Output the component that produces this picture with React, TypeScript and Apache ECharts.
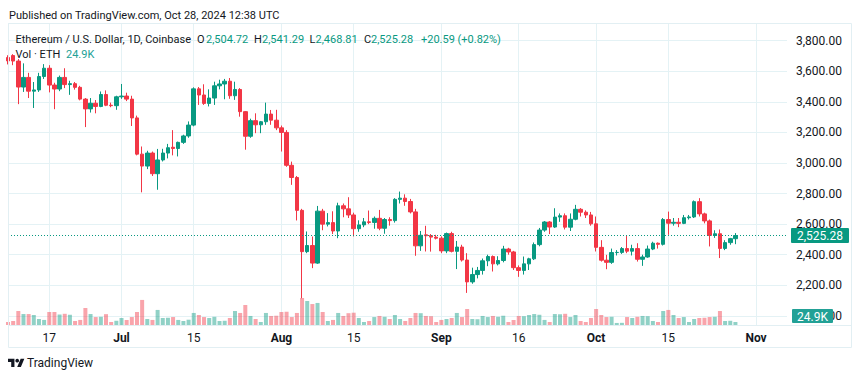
import React, { useEffect, useRef } from 'react';
import * as echarts from 'echarts';

// ---- data ----
const START_DATE = '2024-06-09';
const AXIS_DAYS = 152; // Jun 9 .. Nov 7 (axis extends past the last candle)

// [open, close, low, high], one per day from Jun 9, 2024
const OHLC: number[][] = [
  [3690, 3668, 3645, 3705], // Jun 9
  [3703, 3667, 3640, 3712],
  [3667, 3497, 3385, 3680],
  [3497, 3560, 3465, 3652],
  [3560, 3470, 3425, 3590],
  [3470, 3478, 3360, 3530],
  [3478, 3566, 3465, 3590],
  [3566, 3620, 3550, 3647],
  [3620, 3510, 3462, 3640], // Jun 17
  [3510, 3484, 3352, 3525],
  [3484, 3560, 3470, 3572],
  [3560, 3513, 3490, 3620],
  [3513, 3519, 3446, 3538],
  [3519, 3495, 3480, 3530],
  [3495, 3418, 3410, 3505],
  [3418, 3354, 3235, 3425],
  [3354, 3391, 3330, 3425],
  [3391, 3370, 3325, 3412],
  [3370, 3448, 3365, 3468],
  [3448, 3378, 3372, 3475],
  [3378, 3375, 3365, 3395],
  [3375, 3433, 3348, 3440],
  [3433, 3438, 3420, 3517], // Jul 1
  [3438, 3418, 3405, 3460],
  [3418, 3295, 3242, 3440],
  [3295, 3058, 3050, 3310],
  [3058, 2980, 2808, 3108],
  [2980, 3065, 2960, 3080],
  [3065, 2930, 2915, 3075],
  [2930, 3020, 2825, 3092],
  [3020, 3065, 3010, 3093],
  [3065, 3100, 3030, 3125],
  [3103, 3095, 3050, 3215],
  [3095, 3135, 3043, 3140],
  [3135, 3177, 3125, 3185],
  [3177, 3248, 3165, 3272],
  [3248, 3485, 3240, 3495], // Jul 15
  [3485, 3445, 3380, 3497],
  [3445, 3390, 3380, 3515],
  [3390, 3425, 3370, 3482],
  [3425, 3505, 3380, 3532],
  [3505, 3517, 3482, 3545],
  [3517, 3535, 3417, 3550],
  [3535, 3440, 3420, 3556],
  [3440, 3481, 3413, 3532],
  [3481, 3336, 3303, 3490],
  [3336, 3175, 3087, 3340],
  [3175, 3277, 3165, 3290],
  [3277, 3250, 3195, 3325],
  [3250, 3270, 3195, 3275],
  [3270, 3320, 3250, 3395],
  [3320, 3280, 3250, 3347],
  [3280, 3230, 3215, 3348],
  [3230, 3200, 3075, 3245], // Aug 1
  [3200, 2985, 2975, 3215],
  [2985, 2905, 2857, 3009],
  [2905, 2690, 2624, 2915],
  [2690, 2420, 2115, 2700],
  [2420, 2460, 2410, 2552],
  [2460, 2345, 2312, 2519],
  [2345, 2685, 2340, 2719],
  [2685, 2600, 2560, 2700],
  [2600, 2610, 2585, 2672],
  [2610, 2555, 2535, 2684],
  [2555, 2720, 2508, 2740],
  [2720, 2700, 2645, 2735],
  [2700, 2660, 2640, 2776],
  [2660, 2570, 2519, 2675], // Aug 15
  [2570, 2595, 2550, 2625],
  [2595, 2615, 2580, 2640],
  [2615, 2611, 2600, 2689],
  [2611, 2638, 2570, 2650],
  [2638, 2573, 2560, 2693],
  [2573, 2630, 2537, 2640],
  [2630, 2623, 2590, 2645],
  [2623, 2762, 2610, 2770],
  [2762, 2770, 2735, 2813],
  [2770, 2748, 2720, 2795],
  [2748, 2680, 2670, 2765],
  [2680, 2458, 2393, 2700],
  [2458, 2527, 2425, 2555],
  [2530, 2524, 2421, 2589],
  [2525, 2515, 2420, 2535],
  [2515, 2508, 2500, 2530],
  [2508, 2425, 2410, 2520], // Sep 1
  [2425, 2538, 2410, 2545],
  [2538, 2422, 2415, 2550],
  [2422, 2450, 2306, 2490],
  [2450, 2365, 2355, 2465],
  [2365, 2222, 2150, 2410],
  [2222, 2270, 2210, 2315],
  [2270, 2297, 2245, 2320],
  [2297, 2360, 2270, 2375],
  [2360, 2388, 2325, 2400],
  [2388, 2340, 2290, 2395],
  [2340, 2362, 2330, 2390],
  [2362, 2437, 2350, 2458],
  [2437, 2418, 2400, 2445],
  [2418, 2315, 2300, 2425],
  [2315, 2297, 2255, 2330], // Sep 16
  [2297, 2340, 2270, 2388],
  [2340, 2373, 2300, 2380],
  [2373, 2466, 2365, 2480],
  [2466, 2561, 2455, 2575],
  [2561, 2614, 2550, 2620],
  [2614, 2581, 2535, 2620],
  [2581, 2646, 2575, 2704],
  [2646, 2655, 2615, 2670],
  [2655, 2580, 2565, 2670],
  [2580, 2632, 2555, 2670],
  [2632, 2697, 2625, 2726],
  [2697, 2678, 2650, 2705],
  [2678, 2660, 2640, 2690],
  [2660, 2602, 2590, 2680],
  [2602, 2448, 2421, 2650], // Oct 1
  [2448, 2364, 2355, 2495],
  [2364, 2350, 2305, 2399],
  [2350, 2414, 2340, 2440],
  [2414, 2415, 2395, 2430],
  [2415, 2440, 2405, 2450],
  [2440, 2423, 2410, 2522],
  [2423, 2440, 2395, 2465],
  [2440, 2370, 2355, 2475],
  [2370, 2385, 2327, 2400],
  [2385, 2437, 2380, 2460],
  [2437, 2475, 2430, 2485],
  [2475, 2468, 2440, 2480],
  [2468, 2630, 2460, 2640],
  [2630, 2606, 2530, 2682], // Oct 15
  [2606, 2612, 2590, 2640],
  [2612, 2605, 2580, 2640],
  [2605, 2642, 2600, 2660],
  [2642, 2647, 2630, 2660],
  [2647, 2747, 2640, 2755],
  [2747, 2667, 2650, 2770],
  [2667, 2621, 2605, 2675],
  [2621, 2526, 2454, 2630],
  [2526, 2537, 2510, 2560],
  [2537, 2441, 2378, 2565],
  [2441, 2479, 2430, 2495],
  [2479, 2505, 2465, 2510],
  [2504.72, 2525.28, 2468.81, 2541.29], // Oct 28
];

// daily volume, thousands of ETH
const VOLUME_K: number[] = [
  25, 33, 116, 91, 91, 83, 50, 42, 108, 108, 87, 93, 85, 33, 42, 141, 91, 66, 68, 90, 25, 35,
  58, 42, 66, 108, 208, 50, 42, 125, 58, 60, 66, 42, 33, 44, 100, 83, 66, 58, 68, 33, 35, 58, 116, 100, 166,
  75, 50, 25, 100, 75, 77,
  108, 110, 66, 100, 224, 199, 174, 183, 108, 33, 42, 100, 75, 98, 102, 58, 25, 33, 66, 75, 68, 50, 83, 50, 33, 58, 100, 98, 75, 73, 25,
  42, 50, 58, 100, 66, 133, 50, 48, 75, 66, 75, 68, 77, 25, 42, 75, 73, 83, 91, 85, 42, 25, 91, 89, 93, 66, 83, 33, 25, 58,
  133, 83, 66, 68, 17, 18, 66, 58, 68, 75, 73, 33, 25, 116, 125, 83, 58, 66, 25, 50, 58, 60, 66, 68, 116, 33, 35, 24.9,
];

const TIME_TICKS = [
  { date: '2024-06-17', label: '17', bold: false },
  { date: '2024-07-01', label: 'Jul', bold: true },
  { date: '2024-07-15', label: '15', bold: false },
  { date: '2024-08-01', label: 'Aug', bold: true },
  { date: '2024-08-15', label: '15', bold: false },
  { date: '2024-09-01', label: 'Sep', bold: true },
  { date: '2024-09-16', label: '16', bold: false },
  { date: '2024-10-01', label: 'Oct', bold: true },
  { date: '2024-10-15', label: '15', bold: false },
  { date: '2024-11-01', label: 'Nov', bold: true },
];

const PRICE_MIN = 1940;
const PRICE_MAX = 3916;
const LAST_PRICE = 2525.28;
const LAST_VOLUME_LABEL = '24.9K';

const HEADER = {
  published: 'Published on TradingView.com, Oct 28, 2024 12:38 UTC',
  symbol: 'Ethereum / U.S. Dollar, 1D, Coinbase',
  open: '2,504.72',
  high: '2,541.29',
  low: '2,468.81',
  close: '2,525.28',
  change: '+20.59 (+0.82%)',
  volTitle: 'Vol · ETH',
  vol: '24.9K',
};

// ---- styles ----
const UP = '#089981';
const DOWN = '#f23645';
const UP_VOL = 'rgba(8,153,129,0.45)';
const DOWN_VOL = 'rgba(242,54,69,0.45)';
const TEXT = '#131722';
const GRID = '#e4f2f5';
const FONT = 'Roboto, "Liberation Sans", Arial, sans-serif';

function buildDates(): string[] {
  const out: string[] = [];
  const [y, m, d] = START_DATE.split('-').map(Number);
  const t0 = Date.UTC(y, m - 1, d);
  for (let i = 0; i < AXIS_DAYS; i++) {
    const dt = new Date(t0 + i * 86400000);
    out.push(dt.toISOString().slice(0, 10));
  }
  return out;
}

echarts.graphic.registerShape(
  'tvlogo',
  echarts.graphic.extendPath('M14 22H7V11H0V4h14v18zM28 22h-8l7.5-18h8L28 22z', {}) as any
);

export default function App() {
  const ref = useRef<HTMLDivElement>(null);

  useEffect(() => {
    if (!ref.current) return;
    const chart = echarts.init(ref.current, null, { renderer: 'svg' });
    const dates = buildDates();
    const tickMap = new Map(TIME_TICKS.map((t) => [t.date, t]));
    const showTick = (_i: number, v: string) => tickMap.has(v);

    const candleData = OHLC.map((c) => c);
    const volData = VOLUME_K.map((v, i) => ({
      value: v,
      itemStyle: { color: OHLC[i] && OHLC[i][1] >= OHLC[i][0] ? UP_VOL : DOWN_VOL },
    }));

    const gridLeft = 8;
    const gridWidth = 779;

    const headerY2 = 39.5;
    const txt = (x: number, y: number, text: string, fill = TEXT, size = 11) => ({
      type: 'text',
      x,
      y,
      z: 100,
      style: { text, fill, font: `${size}px ${FONT}`, textVerticalAlign: 'middle' },
    });

    chart.setOption({
      animation: false,
      backgroundColor: '#ffffff',
      textStyle: { fontFamily: FONT },
      grid: [
        { left: gridLeft, width: gridWidth, top: 23, height: 302 },
        { left: gridLeft, width: gridWidth, top: 265, height: 60 },
      ],
      xAxis: [
        {
          type: 'category',
          gridIndex: 0,
          data: dates,
          boundaryGap: false,
          axisLine: { show: false },
          axisTick: { show: false },
          axisLabel: {
            interval: showTick,
            margin: 7,
            fontSize: 12,
            color: TEXT,
            formatter: (v: string) => {
              const t = tickMap.get(v);
              if (!t) return '';
              return t.bold ? `{b|${t.label}}` : t.label;
            },
            rich: { b: { fontWeight: 'bold', fontSize: 12, color: TEXT } },
          },
          splitLine: { show: true, interval: showTick, lineStyle: { color: GRID, width: 1 } },
        },
        {
          type: 'category',
          gridIndex: 1,
          data: dates,
          boundaryGap: false,
          show: false,
        },
      ],
      yAxis: [
        {
          type: 'value',
          gridIndex: 0,
          position: 'right',
          min: PRICE_MIN,
          max: PRICE_MAX,
          splitNumber: 10,
          axisLine: { show: false },
          axisTick: { show: false },
          axisLabel: {
            margin: 9,
            fontSize: 12,
            color: TEXT,
            showMinLabel: false,
            showMaxLabel: false,
            formatter: (v: number) =>
              v % 200 === 0
                ? v.toLocaleString('en-US', { minimumFractionDigits: 2, maximumFractionDigits: 2 })
                : '',
          },
          splitLine: { show: true, lineStyle: { color: GRID, width: 1 } },
        },
        {
          type: 'value',
          gridIndex: 1,
          min: 0,
          max: 498,
          show: false,
          splitLine: { show: false },
        },
      ],
      series: [
        {
          type: 'bar',
          name: 'Volume',
          xAxisIndex: 1,
          yAxisIndex: 1,
          data: volData,
          barWidth: 4,
          z: 1,
        },
        {
          type: 'candlestick',
          name: 'ETHUSD',
          xAxisIndex: 0,
          yAxisIndex: 0,
          data: candleData,
          barWidth: 4,
          z: 3,
          itemStyle: {
            color: UP,
            color0: DOWN,
            borderColor: UP,
            borderColor0: DOWN,
            borderWidth: 1,
          },
          markLine: {
            silent: true,
            symbol: ['none', 'none'],
            lineStyle: { type: [1, 2], color: UP, width: 1 },
            label: {
              show: true,
              position: 'end',
              distance: 4,
              formatter: () => LAST_PRICE.toLocaleString('en-US', { minimumFractionDigits: 2 }),
              backgroundColor: UP,
              color: '#ffffff',
              fontSize: 12,
              padding: [2, 6, 1, 6],
              borderRadius: 1,
            },
            data: [{ yAxis: LAST_PRICE }],
          },
        },
      ],
      graphic: [
        {
          type: 'rect',
          z: 90,
          shape: { x: 8.5, y: 23.5, width: 843, height: 324 },
          style: { fill: 'none', stroke: '#e2eff3', lineWidth: 1 },
        },
        {
          type: 'line',
          z: 90,
          shape: { x1: 8, y1: 325.5, x2: 852, y2: 325.5 },
          style: { stroke: '#e2eff3', lineWidth: 1 },
        },
        {
          type: 'rect',
          z: 100,
          shape: { x: 792, y: 309, width: 41, height: 14, r: 1 },
          style: { fill: '#22a196' },
        },
        {
          type: 'text',
          z: 101,
          x: 812.5,
          y: 316.5,
          style: {
            text: LAST_VOLUME_LABEL,
            fill: '#ffffff',
            font: `12px ${FONT}`,
            textAlign: 'center',
            textVerticalAlign: 'middle',
          },
        },
        txt(9, 15.5, HEADER.published, TEXT, 11),
        txt(15.5, headerY2, HEADER.symbol, TEXT, 11),
        txt(197, headerY2, 'O', TEXT, 11),
        txt(206, headerY2, HEADER.open, UP, 11),
        txt(254, headerY2, 'H', TEXT, 11),
        txt(262, headerY2, HEADER.high, UP, 11),
        txt(309.5, headerY2, 'L', TEXT, 11),
        txt(315.5, headerY2, HEADER.low, UP, 11),
        txt(364, headerY2, 'C', TEXT, 11),
        txt(371, headerY2, HEADER.close, UP, 11),
        txt(421, headerY2, HEADER.change, UP, 11),
        txt(15.5, 54.5, HEADER.volTitle, TEXT, 11),
        txt(66, 54.5, HEADER.vol, '#22a196', 11),
        {
          type: 'tvlogo',
          z: 100,
          x: 8,
          y: 357,
          scaleX: 0.46,
          scaleY: 0.46,
          style: { fill: TEXT },
        },
        {
          type: 'circle',
          z: 100,
          shape: { cx: 8 + 20 * 0.46, cy: 357 + 8 * 0.46, r: 4 * 0.46 },
          style: { fill: TEXT },
        },
        {
          type: 'text',
          z: 100,
          x: 27,
          y: 363,
          style: {
            text: 'TradingView',
            fill: TEXT,
            font: `12px ${FONT}`,
            textVerticalAlign: 'middle',
          },
        },
      ],
    });

    return () => chart.dispose();
  }, []);

  return (
    <div
      ref={ref}
      style={{ position: 'fixed', left: 0, top: 0, width: 860, height: 378, background: '#fff' }}
    />
  );
}
